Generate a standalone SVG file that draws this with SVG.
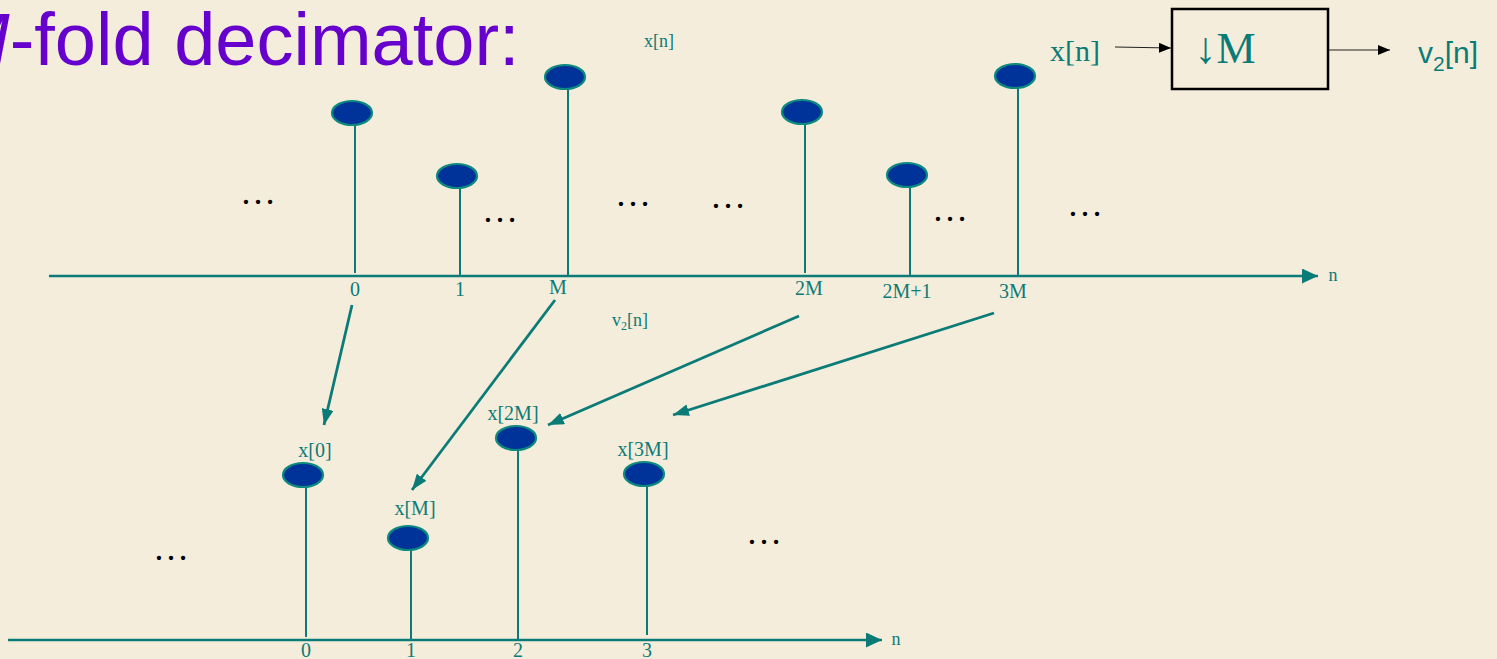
<svg xmlns="http://www.w3.org/2000/svg" width="1497" height="659" viewBox="0 0 1497 659">
<defs>
<style>
.ax{stroke:#0B7B78;stroke-width:2.6;fill:none}
.stem{stroke:#0B7B78;stroke-width:2}
.dot{fill:#003399;stroke:#0D8A7E;stroke-width:2.2}
.lbl{font-family:"Liberation Serif","Times New Roman",serif;fill:#0B7B78;font-size:20px;text-anchor:middle}
.dots{font-family:"Liberation Serif","Times New Roman",serif;font-size:36px;fill:#000;text-anchor:middle}
.conn{stroke:#0B7B78;stroke-width:2.8;fill:none}
.blk{stroke:#222;stroke-width:1.2;fill:none}
</style>
<marker id="ahAx" markerUnits="userSpaceOnUse" markerWidth="16" markerHeight="15" refX="16" refY="7.5" orient="auto"><path d="M0,0 L16,7.5 L0,15 z" fill="#0B7B78"/></marker>
<marker id="ahC" markerUnits="userSpaceOnUse" markerWidth="16" markerHeight="12" refX="16" refY="6" orient="auto"><path d="M0,0 L16,6 L0,12 z" fill="#0B7B78"/></marker>
<marker id="ahB" markerUnits="userSpaceOnUse" markerWidth="12" markerHeight="10" refX="12" refY="5" orient="auto"><path d="M0,0 L12,5 L0,10 z" fill="#000"/></marker>
</defs>
<rect x="0" y="0" width="1497" height="659" fill="#F5EDDB"/>

<text id="title" x="-52" y="65" font-family="'Liberation Sans',Arial,sans-serif" font-size="74" fill="#6600CC"><tspan font-style="italic">M</tspan>-fold decimator:</text>

<g id="block">
<text x="1075" y="61" class="lbl" style="font-size:30px">x[n]</text>
<rect x="1172" y="9" width="156" height="80" fill="none" stroke="#000" stroke-width="2.5"/>
<text x="1225" y="63" class="lbl" style="font-size:44px">↓M</text>
<text x="1418" y="63" font-family="'Liberation Sans',Arial,sans-serif" font-size="30" fill="#0B7B78">v<tspan font-size="21" dy="8">2</tspan><tspan dy="-8">[n]</tspan></text>
</g>

<g id="top-plot">
<text x="659" y="47" class="lbl" style="font-size:18px">x[n]</text>
<line class="ax" x1="49" y1="276" x2="1318" y2="276" marker-end="url(#ahAx)"/>
<text x="1333" y="281" class="lbl" style="font-size:18px">n</text>
<g id="s0"><line class="stem" x1="355" y1="124" x2="355" y2="273"/><ellipse class="dot" cx="352" cy="113" rx="20" ry="12"/><text class="lbl" x="355" y="296">0</text></g>
<g id="s1"><line class="stem" x1="460" y1="186" x2="460" y2="276"/><ellipse class="dot" cx="457" cy="176" rx="20" ry="12"/><text class="lbl" x="460" y="296">1</text></g>
<g id="sM"><line class="stem" x1="568" y1="88" x2="568" y2="276"/><ellipse class="dot" cx="565" cy="77" rx="20" ry="12"/><text class="lbl" x="558" y="294">M</text></g>
<g id="s2M"><line class="stem" x1="805" y1="123" x2="805" y2="273"/><ellipse class="dot" cx="802" cy="112" rx="20" ry="12"/><text class="lbl" x="809" y="295">2M</text></g>
<g id="s2M1"><line class="stem" x1="910" y1="186" x2="910" y2="276"/><ellipse class="dot" cx="907" cy="175" rx="20" ry="12"/><text class="lbl" x="907" y="298">2M+1</text></g>
<g id="s3M"><line class="stem" x1="1018" y1="87" x2="1018" y2="276"/><ellipse class="dot" cx="1015" cy="76" rx="20" ry="12"/><text class="lbl" x="1013" y="298">3M</text></g>
<text class="dots" x="258" y="204">…</text>
<text class="dots" x="500" y="222">…</text>
<text class="dots" x="633" y="206">…</text>
<text class="dots" x="728" y="208">…</text>
<text class="dots" x="950" y="221">…</text>
<text class="dots" x="1085" y="216">…</text>
</g>

<text id="v2label" x="612" y="326" font-family="'Liberation Serif','Times New Roman',serif" font-size="18" fill="#0B7B78">v<tspan font-size="12" dy="4">2</tspan><tspan dy="-4">[n]</tspan></text>

<g id="connectors">
<line class="conn" x1="352" y1="305" x2="324" y2="425" marker-end="url(#ahC)"/>
<line class="conn" x1="555" y1="300" x2="412" y2="490" marker-end="url(#ahC)"/>
<line class="conn" x1="799" y1="316" x2="548" y2="425" marker-end="url(#ahC)"/>
<line class="conn" x1="994" y1="313" x2="673" y2="415" marker-end="url(#ahC)"/>
<line class="blk" x1="1115" y1="47" x2="1171" y2="48" marker-end="url(#ahB)"/>
<line class="blk" x1="1329" y1="50" x2="1390" y2="50" marker-end="url(#ahB)"/>
</g>

<g id="bottom-plot">
<line class="ax" x1="8" y1="640" x2="882" y2="640" marker-end="url(#ahAx)"/>
<text x="896" y="645" class="lbl" style="font-size:18px">n</text>
<g id="b0"><line class="stem" x1="306" y1="486" x2="306" y2="637"/><ellipse class="dot" cx="303" cy="475" rx="20" ry="12"/><text class="lbl" x="315" y="457">x[0]</text><text class="lbl" x="306" y="657">0</text></g>
<g id="b1"><line class="stem" x1="411" y1="549" x2="411" y2="640"/><ellipse class="dot" cx="408" cy="538" rx="20" ry="12"/><text class="lbl" x="415" y="515">x[M]</text><text class="lbl" x="411" y="657">1</text></g>
<g id="b2"><line class="stem" x1="518" y1="449" x2="518" y2="640"/><ellipse class="dot" cx="516" cy="438" rx="20" ry="12"/><text class="lbl" x="513" y="420">x[2M]</text><text class="lbl" x="518" y="657">2</text></g>
<g id="b3"><line class="stem" x1="647" y1="485" x2="647" y2="635"/><ellipse class="dot" cx="644" cy="474" rx="20" ry="12"/><text class="lbl" x="643" y="456">x[3M]</text><text class="lbl" x="647" y="657">3</text></g>
<text class="dots" x="171" y="560">…</text>
<text class="dots" x="764" y="544">…</text>
</g>
</svg>
